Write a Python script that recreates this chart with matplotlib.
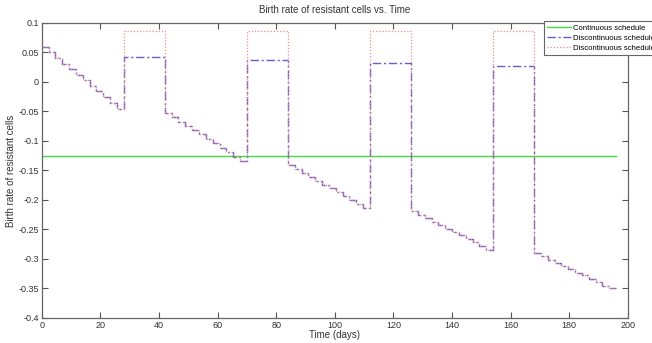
import numpy as np
import matplotlib
matplotlib.use('Agg')
import matplotlib.pyplot as plt

# =========================================================
# DADOS
# =========================================================
# inicio de cada bloco de tratamento (dias) e duracao
seg_start = [0, 42, 84, 126, 168]
seg_len = 28
pause_len = 14

# niveis da taxa de natalidade em cada bloco (escada)
seg_levels = [
    [0.060, 0.050, 0.041, 0.031, 0.022, 0.012, 0.003, -0.007, -0.016, -0.026, -0.035, -0.045],
    [-0.052, -0.059, -0.067, -0.074, -0.082, -0.089, -0.097, -0.104, -0.112, -0.119, -0.127, -0.134],
    [-0.141, -0.148, -0.154, -0.161, -0.167, -0.174, -0.180, -0.187, -0.193, -0.200, -0.206, -0.213],
    [-0.219, -0.225, -0.231, -0.237, -0.243, -0.249, -0.254, -0.260, -0.266, -0.272, -0.278, -0.284],
    [-0.290, -0.295, -0.301, -0.306, -0.312, -0.317, -0.323, -0.328, -0.334, -0.339, -0.345, -0.350],
]
# valores nas pausas
pause_dashdot = [0.043, 0.038, 0.033, 0.027]
pause_dotted = [0.087, 0.087, 0.087, 0.087]

# esquema continuo
cont_days = [0, 196]
cont_value = [-0.125, -0.125]

xticks = [0, 20, 40, 60, 80, 100, 120, 140, 160, 180, 200]
yticks = [-0.4, -0.35, -0.3, -0.25, -0.2, -0.15, -0.1, -0.05, 0, 0.05, 0.1]
ytick_labels = ['-0.4', '-0.35', '-0.3', '-0.25', '-0.2', '-0.15', '-0.1', '-0.05', '0', '0.05', '0.1']


def build_series(pause_vals):
    t, v = [], []
    for i, start in enumerate(seg_start):
        levels = seg_levels[i]
        edges = np.linspace(start, start + seg_len, len(levels) + 1)
        for k, lv in enumerate(levels):
            t += [edges[k], edges[k + 1]]
            v += [lv, lv]
        if i < len(pause_vals):
            t += [start + seg_len, start + seg_len + pause_len]
            v += [pause_vals[i], pause_vals[i]]
    return t, v


t_dd, v_dd = build_series(pause_dashdot)
t_dot, v_dot = build_series(pause_dotted)

# =========================================================
# GRAFICO
# =========================================================
plt.rcParams['font.family'] = ['Liberation Sans', 'DejaVu Sans']

fig = plt.figure(figsize=(6.52, 3.43), dpi=100)
ax = fig.add_axes([0.064, 0.073, 0.899, 0.860])

l1, = ax.plot(cont_days, cont_value, color='#3fdc3f', lw=1.0)
l2, = ax.plot(t_dd, v_dd, color='#6a5acd', lw=1.0, linestyle=(0, (6, 2, 1.5, 2)))
l3, = ax.plot(t_dot, v_dot, color='#e89090', lw=0.9, linestyle=(0, (1, 1.5)))

ax.set_xlim(0, 200)
ax.set_ylim(-0.4, 0.1)
ax.set_xticks(xticks)
ax.set_yticks(yticks)
ax.set_yticklabels(ytick_labels)

ax.tick_params(direction='in', top=True, right=True, labelsize=6.5,
               length=4, width=0.8, color='#555555', labelcolor='#333333', pad=2)
for s in ax.spines.values():
    s.set_color('#666666')
    s.set_linewidth(0.9)

ax.set_title('Birth rate of resistant cells vs. Time', fontsize=7, color='#333333', pad=7)
ax.set_xlabel('Time (days)', fontsize=7, color='#333333', labelpad=0)
ax.set_ylabel('Birth rate of resistant cells', fontsize=7, color='#333333', labelpad=2)

leg = fig.legend([l1, l2, l3],
                 ['Continuous schedule', 'Discontinuous schedule', 'Discontinuous schedule'],
                 loc='upper left', bbox_to_anchor=(0.834, 0.940), fontsize=5.6,
                 frameon=True, fancybox=False, handlelength=3.1, handletextpad=0.2,
                 borderpad=0.45, labelspacing=0.35, borderaxespad=0, framealpha=1)
leg.get_frame().set_edgecolor('#666666')
leg.get_frame().set_linewidth(0.8)

fig.savefig('out.png', dpi=100)
